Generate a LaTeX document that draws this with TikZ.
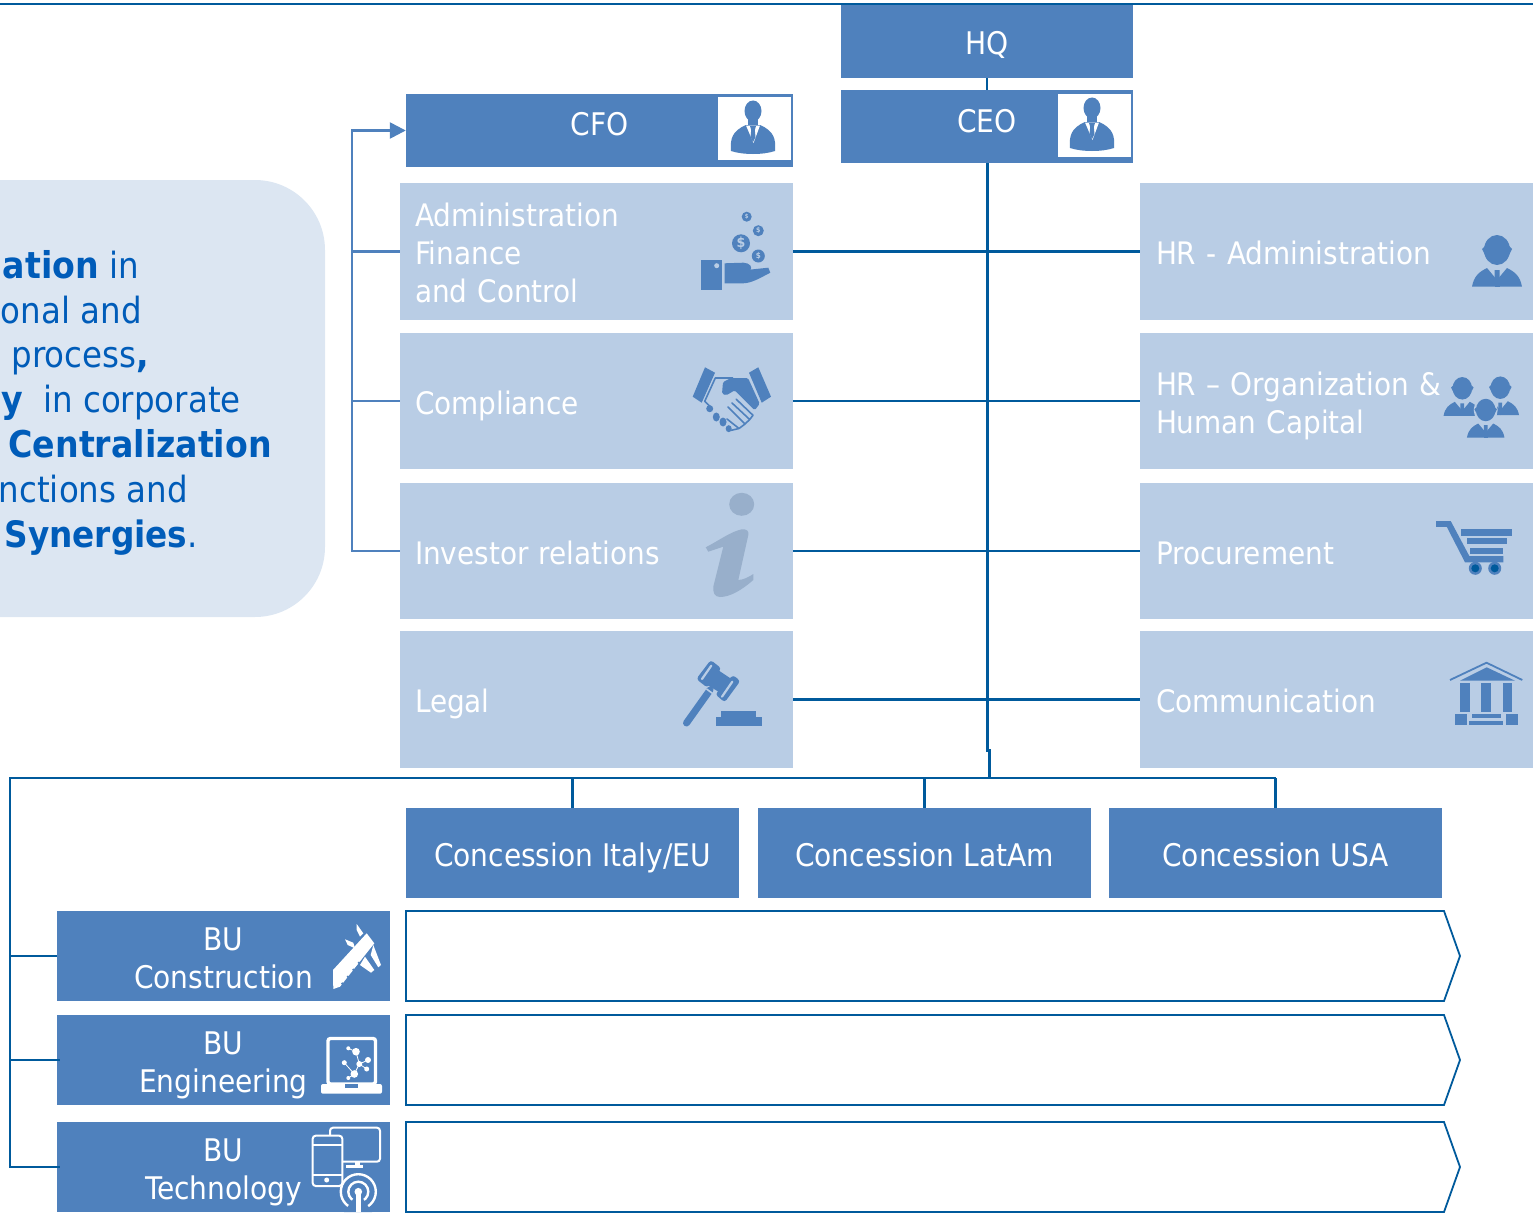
\documentclass[tikz,border=0pt]{standalone}
\usepackage{fontspec}
\setmainfont{DejaVu Sans Condensed}
\usetikzlibrary{arrows.meta}
\definecolor{midb}{HTML}{4F81BD}
\definecolor{lightb}{HTML}{B9CDE5}
\definecolor{paleb}{HTML}{DCE6F2}
\definecolor{darkb}{HTML}{005A9C}
\definecolor{txtb}{HTML}{005CB9}
\definecolor{infob}{HTML}{98AFCB}
\newcommand{\st}{\rule{0pt}{33pt}}
\newcommand{\sd}{\rule[-7pt]{0pt}{7pt}}
\tikzset{
 basebox/.style={draw=none,rectangle,inner ysep=0pt,text=white},
 darkbox/.style={basebox,font=\fontsize{31.2}{38}\selectfont,fill=midb,inner xsep=0pt,align=center},
 lightbox/.style={basebox,font=\fontsize{31}{38}\selectfont,fill=lightb,inner xsep=15pt,text width=363pt,align=left},
 rightbox/.style={basebox,font=\fontsize{31}{38}\selectfont,fill=lightb,inner xsep=16pt,text width=361pt,align=left},
 tie/.style={draw=darkb,line width=2.5pt},
 cfoline/.style={draw=midb,line width=2.5pt},
 chev/.style={draw=darkb,line width=1.8pt,fill=white,line join=miter},
 sidetext/.style={anchor=base east,inner sep=0pt,text=txtb,font=\fontsize{36.1}{45}\selectfont},
 ic/.style={fill=midb,draw=none},
 wl/.style={draw=white,line width=2pt},
 coinlabel/.style={inner sep=0pt,text=lightb,font=\bfseries},
}
\newcommand{\sbf}[1]{{\fontsize{36.9}{45}\selectfont\bfseries #1}}
\newcommand{\boxat}[7]{\node[#6,minimum width={#4-#2},minimum height={#5-#3}] (#1) at ({(#2+#4)/2},{(#3+#5)/2}) {#7};}
\newcommand{\suit}[2]{\begin{scope}[shift={(#1,#2)}]
 \fill[ic] (0,-16) ellipse (8.5pt and 10.5pt);
 \fill[ic] (-5,-10) rectangle (5,0);
 \fill[ic] (-22,24) .. controls (-23,12) and (-21,4) .. (-7,-2) -- (7,-2) .. controls (21,4) and (23,12) .. (22,24) .. controls (10,28) and (-10,28) .. (-22,24) -- cycle;
 \fill[white] (-7,-1.5) -- (7,-1.5) -- (0.5,16) -- cycle;
 \fill[ic] (-3,-1) -- (3,-1) -- (1.8,3) -- (2.5,10) -- (0,15) -- (-2.5,10) -- (-1.8,3) -- cycle;
\end{scope}}
\newcommand{\personic}[3]{\begin{scope}[shift={(#1,#2)},scale=#3]
 \fill[ic] (0,0) ellipse (13pt and 15pt);
 \fill[ic] (-15,-1) -- (-12,-4) -- (-12,5) -- cycle;
 \fill[ic] (15,-1) -- (12,-4) -- (12,5) -- cycle;
 \fill[ic] (-25,36.7) .. controls (-23,26) and (-18,22) .. (-10,18) -- (0,30) -- (10,18) .. controls (18,22) and (23,26) .. (25,36.7) -- cycle;
 \fill[ic] (-2.5,20) -- (2.5,20) -- (2.5,32) -- (0,36.7) -- (-2.5,32) -- cycle;
 \fill[ic] (-2.5,30) rectangle (2.5,36.7);
\end{scope}}
\begin{document}
\begin{tikzpicture}[x=1pt,y=-1pt]
\useasboundingbox (0,0) rectangle (1535,1215);
\clip (0,0) rectangle (1535,1215);
% side panel
\fill[paleb] (-120,180) [rounded corners=70pt] -- (325,180) -- (325,617) [sharp corners] -- (-120,617) -- cycle;
\node[sidetext] (s1) at (139,278) {\sbf{ation} in};
\node[sidetext] (s2) at (142,323) {onal and};
\node[sidetext] (s3) at (149,367) {process\sbf{,}};
\node[sidetext] (s4) at (241,412) {\sbf{y}\ \ in corporate};
\node[sidetext] (s5) at (272,457) {\sbf{Centralization}};
\node[sidetext] (s6) at (188,502) {nctions and};
\node[sidetext] (s7) at (198,547) {{\fontsize{36.4}{45}\selectfont\bfseries Synergies}.};
% top rule
\coordinate (ruleL) at (0,4.5); \coordinate (ruleR) at (1533,4.5);
\draw[darkb,line width=2pt] (ruleL) -- (ruleR);
% boxes
\boxat{hq}{841}{5}{1133}{78}{darkbox}{\st HQ\sd}
\boxat{ceo}{841}{90}{1133}{163}{darkbox}{\st\raisebox{7.5pt}{CEO}\sd}
\boxat{cfo}{406}{94}{793}{167}{darkbox}{\st\raisebox{8pt}{CFO}\sd}
\boxat{adm}{400}{183}{793}{320}{lightbox}{\st Administration\\Finance\\and Control\sd}
\boxat{comp}{400}{333}{793}{469}{lightbox}{\st Compliance\sd}
\boxat{inv}{400}{483}{793}{619}{lightbox}{\st Investor relations\sd}
\boxat{legal}{400}{631}{793}{768}{lightbox}{\st Legal\sd}
\boxat{hra}{1140}{183}{1533}{320}{rightbox}{\st HR - Administration\sd}
\boxat{hro}{1140}{333}{1533}{469}{rightbox}{\st HR – Organization \&\\Human Capital\sd}
\boxat{proc}{1140}{483}{1533}{619}{rightbox}{\st Procurement\sd}
\boxat{comm}{1140}{631}{1533}{768}{rightbox}{\st Communication\sd}
\boxat{c1}{406}{808}{739}{898}{darkbox}{\st Concession Italy/EU\sd}
\boxat{c2}{758}{808}{1091}{898}{darkbox}{\st Concession LatAm\sd}
\boxat{c3}{1109}{808}{1442}{898}{darkbox}{\st Concession USA\sd}
\boxat{bu1}{57}{911}{390}{1001}{darkbox}{\st BU\\Construction\sd}
\boxat{bu2}{57}{1015}{390}{1105}{darkbox}{\st BU\\Engineering\sd}
\boxat{bu3}{57}{1122}{390}{1212}{darkbox}{\st BU\\Technology\sd}
% chevrons
\draw[chev] (406,911) -- (1444,911) -- (1460,956) -- (1444,1001) -- (406,1001) -- cycle;
\draw[chev] (406,1015) -- (1444,1015) -- (1460,1060) -- (1444,1105) -- (406,1105) -- cycle;
\draw[chev] (406,1122) -- (1444,1122) -- (1460,1167) -- (1444,1212) -- (406,1212) -- cycle;
% connectors
\coordinate (jogA) at (987,750); \coordinate (jogB) at (989,750);
\coordinate (busL) at (10,778); \coordinate (busR) at (1276,778); \coordinate (jogC) at (989,778);
\coordinate (trunk) at (352,130);
\draw[tie] (hq.south) -- (ceo.north);
\draw[tie,line width=3pt] (ceo.south) -- (jogA) -- (jogB) -- (jogC);
\draw[tie] (adm.east) -- (hra.west);
\draw[tie] (comp.east) -- (hro.west);
\draw[tie] (inv.east) -- (proc.west);
\draw[tie] (legal.east) -- (comm.west);
\draw[tie] ([xshift=3pt]bu3.west) -| (busL) -- (busR);
\draw[tie] (bu1.west) -- (bu1.west -| busL);
\draw[tie] ([xshift=3pt]bu2.west) -- (bu2.west -| busL);
\draw[tie] (c1.north) -- (c1.north |- busL);
\draw[tie] (c2.north) -- (c2.north |- busL);
\draw[tie] (c3.north) -- (c3.north |- busR);
\draw[cfoline,-{Triangle[length=16pt,width=16pt]}] (inv.west) -- (inv.west -| trunk) -- (trunk |- cfo.west) -- (cfo.west);
\draw[cfoline] (adm.west) -- (adm.west -| trunk);
\draw[cfoline] (comp.west) -- (comp.west -| trunk);
% CEO / CFO portraits
\fill[white] (1058,94) rectangle (1131,157);
\suit{1092}{124}
\fill[white] (718,97) rectangle (791,160);
\suit{753}{127}
% money hand
\foreach \cx/\cy/\cr/\fs in {746.7/216.7/5/6,758.3/230.7/5.5/7,741/243.3/9/14,758.3/256/6.5/8}{
 \fill[ic] (\cx,\cy) circle (\cr pt);
 \node[coinlabel,font=\bfseries\fontsize{\fs}{\fs}\selectfont] at (\cx,\cy) {\$};
}
\fill[ic] (700.7,260.3) rectangle (722,290);
\fill[lightb] (716.7,265.7) circle (2.5pt);
\fill[ic] (724.7,263.3) -- (743.3,262.7) .. controls (750,263) and (753,267) .. (750,270.7) -- (737,271) -- (768.3,267.7) -- (770.3,272.7) .. controls (760,278) and (752,283) .. (743.3,283.3) -- (724.7,283.3) -- cycle;
% handshake
\fill[ic] (705,367.3) -- (715,372.7) -- (701.7,402.7) -- (692.7,396.7) -- cycle;
\fill[ic] (758.3,367.3) -- (749,372.7) -- (761.7,402.7) -- (771,396.7) -- cycle;
\fill[ic,rounded corners=1.5pt] (723,382) -- (731.3,378) -- (748,378) -- (759.7,403.7) -- (754.7,410.3) -- (734.7,390.3) -- (726.3,395.3) -- (722,393.7) -- cycle;
\draw[midb,line width=1.6pt,line join=round] (733,378) -- (715.3,378) -- (704.7,401.3) -- (710.7,407);
\draw[midb,line width=1.6pt,line join=round,line cap=round] (736.3,399.3) -- (753,415.3) -- (749.7,419.5) -- (732,403) (749.7,419.5) -- (745,424) -- (728,407) (745,424) -- (739,428.5) -- (727,419) (739,428.5) -- (731.3,430.3);
\fill[ic] (709.7,408.7) ellipse (3.5pt and 3.5pt);
\fill[ic] (716.3,417) ellipse (3.5pt and 4.5pt);
\fill[ic] (723,422) ellipse (3.5pt and 4.5pt);
\fill[ic] (728.7,428.7) ellipse (3pt and 3.5pt);
% info
\fill[infob] (741.7,504.3) ellipse (12.5pt and 11.5pt);
\fill[infob] (705.7,547.3) .. controls (720,540) and (730,532) .. (741.7,529.3) .. controls (747,529) and (749,531) .. (748.3,535) -- (738.3,580) .. controls (743,580) and (749,577) .. (753.3,574) -- (753.3,580) .. controls (742,590) and (730,597) .. (720,597) .. controls (714,597) and (713,592) .. (713.3,586.7) -- (723.3,546.7) -- (708.3,551.7) -- cycle;
% gavel
\draw[midb,line width=7pt,line cap=round] (710,690) -- (686.5,723);
\draw[lightb,line width=1.6pt] (706.5,689) -- (714,694.5);
\fill[ic] (718,670) -- (733,680) -- (721.3,693.3) -- (707.3,685) -- cycle;
\fill[ic,rounded corners=3pt] (710.7,660) -- (721.3,668.3) -- (707.3,687.7) -- (696.3,679) -- cycle;
\fill[ic,rounded corners=3pt] (733,675) -- (740.3,681) -- (724.7,702.3) -- (715.3,694.3) -- cycle;
\draw[lightb,line width=2.2pt,line cap=round] (711.3,665.7) -- (702,679);
\draw[lightb,line width=2.2pt,line cap=round] (732.3,681.7) -- (722,696.7);
\fill[ic] (715.7,717.3) rectangle (762,725.7);
\fill[ic] (721.3,710.7) rectangle (756.3,717.3);
% hr person
\personic{1497}{250}{1}
% hr group
\personic{1462.3}{388.3}{.75}
\personic{1500.3}{387.7}{.75}
\begin{scope}
 \fill[lightb] (1485.7,410) ellipse (12pt and 13pt);
 \personic{1485.7}{410}{.75}
\end{scope}
% cart
\fill[ic] (1436,521) rectangle (1450.7,526.7);
\fill[ic] (1450.7,521) -- (1469.3,556) -- (1503.3,556) -- (1503.3,562.3) -- (1465,562.3) -- (1446.7,526.7) -- cycle;
\fill[ic] (1461,529.3) rectangle (1512.3,535.7);
\fill[ic] (1466.7,538.3) rectangle (1507,544.3);
\fill[ic] (1470,547.7) rectangle (1503.3,553.7);
\fill[ic] (1475.3,568.3) circle (6.5pt); \fill[darkb] (1475.3,568.3) circle (4pt);
\fill[ic] (1494.7,568.3) circle (6.5pt); \fill[darkb] (1494.7,568.3) circle (4pt);
% bank
\draw[midb,line width=1.8pt,line join=round] (1450,680) -- (1486.5,662.7) -- (1522.3,680);
\fill[ic] (1460,680.7) -- (1486.7,667.3) -- (1515,680.7) -- cycle;
\fill[ic] (1460,682.7) rectangle (1470,712);
\fill[ic] (1481,682.7) rectangle (1491,712);
\fill[ic] (1503,682.7) rectangle (1512,712);
\fill[ic] (1455,714.3) rectangle (1467,724.7);
\fill[ic] (1506,714.3) rectangle (1517.7,724.7);
\fill[ic] (1471.7,714) rectangle (1501,718);
\fill[ic] (1469,721) rectangle (1503,724.7);
% caliper
\fill[white] (366.7,933.3) -- (374.3,943.3) -- (340,986.7) -- (333.3,989) -- (333,970) -- cycle;
\foreach \cx/\cy in {358.9/962.8,353.4/969.7,347.9/976.7,342.4/983.6}{\fill[midb] (\cx,\cy) circle (1.3pt);}
\fill[white] (356.7,924) -- (363.3,933.3) -- (360,936.7) -- (356.7,930) -- cycle;
\fill[white] (345,939.3) -- (353.3,942.7) -- (355,948.3) -- (347.7,945) -- cycle;
\fill[white] (373.3,945) -- (381,965) -- (378.3,967.3) -- (370.7,955) -- cycle;
\fill[white] (365,956.7) -- (374.3,970) -- (371,972.7) -- (360,965) -- cycle;
% laptop
\draw[wl,line width=3.4pt,rounded corners=2.5pt] (328,1038.5) rectangle (375.5,1084);
\fill[white,rounded corners=2pt] (321,1084) rectangle (382,1093.7);
\fill[midb] (345,1084) rectangle (358,1087.5);
\foreach \ea/\eb/\ec/\ed in {356/1051.7/359.3/1064,348.3/1048.3/356/1051.7,344.3/1062.7/354.3/1074,359.3/1064/368/1060,359.3/1064/366.7/1069,359.3/1064/354.3/1074,354.3/1074/348.3/1078}{
 \draw[white,line width=.8pt] (\ea,\eb) -- (\ec,\ed);
}
\foreach \cx/\cy/\cr in {356/1051.7/3.8,348.3/1048.3/2,344.3/1062.7/2.5,359.3/1064/3,368/1060/3,366.7/1069/2.5,354.3/1074/3.8,348.3/1078/2}{
 \fill[white] (\cx,\cy) circle (\cr pt);
}
% devices
\draw[wl,rounded corners=3pt] (330,1127.7) rectangle (380,1161.7);
\fill[white] (355,1162) rectangle (360,1165);
\fill[white] (345.7,1165) rectangle (363.3,1167.7);
\draw[wl,fill=midb,rounded corners=3pt] (312.7,1135.7) rectangle (342.3,1186);
\draw[wl] (312.7,1145) -- (342.3,1145);
\draw[wl] (312.7,1175) -- (342.3,1175);
\fill[white] (326.7,1180) circle (2.5pt);
\draw[wl,fill=midb,line width=2.4pt] (358.3,1191.7) circle (17.5pt);
\draw[wl,line width=2.4pt] (358.3,1191.7) circle (10pt);
\fill[midb] (358.3,1191.7) -- (344,1212) -- (372,1212) -- cycle;
\draw[white,line width=5pt] (358.3,1191.7) -- (358.3,1212);
\fill[white] (358.3,1191.7) circle (3.8pt);
\end{tikzpicture}
\end{document}
